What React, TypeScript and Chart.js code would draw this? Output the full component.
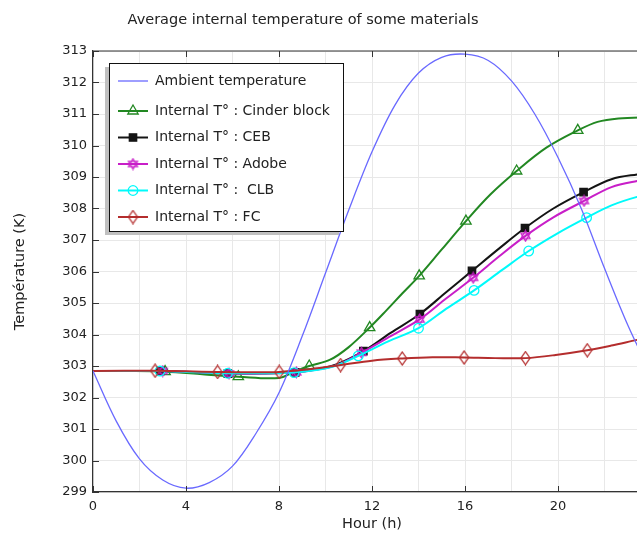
import React, { useEffect, useRef } from 'react';
import { Chart, registerables } from 'chart.js';
import { drawPoint } from 'chart.js/helpers';

Chart.register(...registerables);

const TITLE = 'Average internal temperature of some materials';
const X_TITLE = 'Hour (h)';
const Y_TITLE = 'Température (K)';

const LABELS = [
  'Ambient temperature',
  'Internal T° : Cinder block',
  'Internal T° : CEB',
  'Internal T° : Adobe',
  'Internal T° :  CLB',
  'Internal T° : FC',
];

const ambientHours = [0, 1, 2, 3, 4, 5, 6, 7, 8, 9, 10, 11, 12, 13, 14, 15, 16, 17, 18, 19, 20, 21, 22, 23, 24];
const ambientTemps = [302.84, 301.25, 300.05, 299.38, 299.12, 299.3, 299.82, 300.85, 302.15, 303.95, 305.95, 307.95, 309.8, 311.3, 312.3, 312.8, 312.9, 312.7, 312.05, 311.0, 309.62, 308.0, 306.1, 304.3, 302.75];

const cinderHours = [0, 1.5, 3.1, 4.7, 6.25, 8.0, 8.6, 9.3, 10.2, 11.0, 11.9, 12.6, 13.3, 14.03, 15.0, 16.04, 17.1, 18.22, 19.5, 20.85, 21.7, 22.6, 24];
const cinderTemps = [302.84, 302.84, 302.82, 302.74, 302.66, 302.62, 302.8, 303.0, 303.2, 303.6, 304.22, 304.75, 305.3, 305.86, 306.7, 307.6, 308.45, 309.19, 309.93, 310.48, 310.75, 310.86, 310.9];
const cinderMarks = [3.1, 6.25, 9.3, 11.9, 14.03, 16.04, 18.22, 20.85];

const cebHours = [0, 2.9, 4.5, 5.8, 7.3, 8.7, 9.6, 10.5, 11.63, 12.8, 14.06, 15.2, 16.3, 17.5, 18.58, 19.8, 21.1, 22.3, 23.4, 24];
const cebTemps = [302.84, 302.84, 302.8, 302.76, 302.76, 302.8, 302.9, 303.06, 303.47, 304.05, 304.65, 305.35, 306.02, 306.75, 307.38, 308.0, 308.52, 308.93, 309.08, 309.12];
const cebMarks = [2.9, 5.8, 8.7, 11.63, 14.06, 16.3, 18.58, 21.1];

const adobeHours = [0, 3.0, 4.5, 5.85, 7.3, 8.75, 9.6, 10.5, 11.55, 12.8, 14.05, 15.2, 16.35, 17.5, 18.6, 19.8, 21.12, 22.3, 23.4, 24];
const adobeTemps = [302.84, 302.84, 302.8, 302.76, 302.76, 302.8, 302.88, 303.03, 303.42, 303.95, 304.48, 305.15, 305.8, 306.5, 307.13, 307.72, 308.24, 308.68, 308.87, 308.92];
const adobeMarks = [3.0, 5.85, 8.75, 11.55, 14.05, 16.35, 18.6, 21.12];

const clbHours = [0, 2.88, 4.4, 5.79, 7.2, 8.65, 9.6, 10.4, 11.41, 12.7, 14.0, 15.2, 16.39, 17.6, 18.74, 20.0, 21.23, 22.3, 23.4, 24];
const clbTemps = [302.84, 302.84, 302.8, 302.77, 302.77, 302.79, 302.87, 303.0, 303.32, 303.78, 304.2, 304.82, 305.4, 306.05, 306.65, 307.22, 307.71, 308.1, 308.37, 308.45];
const clbMarks = [2.88, 5.79, 8.65, 11.41, 14.0, 16.39, 18.74, 21.23];

const fcHours = [0, 2.67, 4.0, 5.36, 6.7, 8.01, 9.3, 10.65, 12.0, 13.3, 14.6, 15.96, 17.3, 18.6, 19.9, 21.26, 22.3, 23.4, 24];
const fcTemps = [302.84, 302.85, 302.83, 302.81, 302.8, 302.81, 302.9, 303.03, 303.17, 303.24, 303.28, 303.27, 303.25, 303.25, 303.35, 303.5, 303.65, 303.83, 303.92];
const fcMarks = [2.67, 5.36, 8.01, 10.65, 13.3, 15.96, 18.6, 21.26];

const X_MIN = 0;
const X_MAX = 24;
const X_GRID_STEP = 2;
const X_LABEL_STEP = 4;
const Y_MIN = 299;
const Y_MAX = 313;
const Y_STEP = 1;

const COLORS = {
  ambient: 'rgb(105,105,255)',
  cinder: 'rgb(34,136,34)',
  ceb: 'rgb(20,20,20)',
  adobe: 'rgb(200,30,200)',
  clb: 'rgb(0,250,250)',
  fc: 'rgb(180,45,45)',
};

const FONT = 'DejaVu Sans';

function makeHexagram(color: string) {
  const c = document.createElement('canvas');
  c.width = 13;
  c.height = 13;
  const g = c.getContext('2d')!;
  g.strokeStyle = color;
  g.lineWidth = 1.2;
  const cx = 6.5, cy = 6.5, r = 5.3;
  for (const start of [-90, 90]) {
    g.beginPath();
    for (let k = 0; k < 3; k++) {
      const a = ((start + k * 120) * Math.PI) / 180;
      const px = cx + r * Math.cos(a);
      const py = cy + r * Math.sin(a);
      if (k === 0) g.moveTo(px, py); else g.lineTo(px, py);
    }
    g.closePath();
    g.stroke();
  }
  return c;
}

function makeLozenge(color: string) {
  const c = document.createElement('canvas');
  c.width = 11;
  c.height = 15;
  const g = c.getContext('2d')!;
  g.strokeStyle = color;
  g.lineWidth = 1.3;
  g.beginPath();
  g.moveTo(5.5, 1);
  g.lineTo(10, 7.5);
  g.lineTo(5.5, 14);
  g.lineTo(1, 7.5);
  g.closePath();
  g.stroke();
  return c;
}

function pts(hours: number[], temps: number[]) {
  return hours.map((h, i) => ({ x: h, y: temps[i] }));
}

export default function App() {
  const ref = useRef<HTMLCanvasElement>(null);

  useEffect(() => {
    const hexagram = makeHexagram(COLORS.adobe);
    const lozenge = makeLozenge(COLORS.fc);

    const series = [
      { label: LABELS[0], hours: ambientHours, temps: ambientTemps, marks: [] as number[], color: COLORS.ambient, width: 1.3, style: 'circle' as any, radius: 0, order: 0 },
      { label: LABELS[1], hours: cinderHours, temps: cinderTemps, marks: cinderMarks, color: COLORS.cinder, width: 2, style: 'triangle' as any, radius: 6, order: 5 },
      { label: LABELS[2], hours: cebHours, temps: cebTemps, marks: cebMarks, color: COLORS.ceb, width: 2, style: 'rect' as any, radius: 5.2, order: 4, fill: true },
      { label: LABELS[3], hours: adobeHours, temps: adobeTemps, marks: adobeMarks, color: COLORS.adobe, width: 2, style: hexagram as any, radius: 5, order: 3 },
      { label: LABELS[4], hours: clbHours, temps: clbTemps, marks: clbMarks, color: COLORS.clb, width: 2, style: 'circle' as any, radius: 4.8, order: 2 },
      { label: LABELS[5], hours: fcHours, temps: fcTemps, marks: fcMarks, color: COLORS.fc, width: 2, style: lozenge as any, radius: 5, order: 1 },
    ];

    const datasets = series.map((s) => ({
      label: s.label,
      data: pts(s.hours, s.temps),
      borderColor: s.color,
      borderWidth: s.width,
      pointStyle: s.style,
      pointBorderColor: s.color,
      pointBackgroundColor: (s as any).fill ? s.color : 'rgba(0,0,0,0)',
      pointBorderWidth: 1.3,
      pointRadius: (ctx: any) => (s.marks.includes(s.hours[ctx.dataIndex]) ? s.radius : 0),
      pointHoverRadius: 0,
      tension: 0.35,
      fill: false,
      order: s.order,
    }));

    const decorations = {
      id: 'decorations',
      afterDraw(chart: any) {
        const ctx = chart.ctx as CanvasRenderingContext2D;
        const area = chart.chartArea;
        const xs = chart.scales.x;
        const ys = chart.scales.y;
        ctx.save();
        ctx.strokeStyle = '#333';
        ctx.lineWidth = 1.2;
        ctx.beginPath();
        ctx.moveTo(area.left, area.top);
        ctx.lineTo(area.right, area.top);
        ctx.stroke();
        ctx.lineWidth = 1;
        for (let v = Y_MIN; v <= Y_MAX; v += Y_STEP) {
          const py = Math.round(ys.getPixelForValue(v)) + 0.5;
          ctx.beginPath();
          ctx.moveTo(area.left, py);
          ctx.lineTo(area.left + 6, py);
          ctx.stroke();
        }
        for (let v = X_MIN; v <= X_MAX; v += X_LABEL_STEP) {
          const px = Math.round(xs.getPixelForValue(v)) + 0.5;
          ctx.beginPath();
          ctx.moveTo(px, area.bottom);
          ctx.lineTo(px, area.bottom - 6);
          ctx.moveTo(px, area.top);
          ctx.lineTo(px, area.top + 6);
          ctx.stroke();
        }
        ctx.fillStyle = '#222';
        ctx.font = `14.5px "${FONT}"`;
        ctx.textAlign = 'center';
        ctx.textBaseline = 'middle';
        ctx.fillText(TITLE, 303, 20);

        const bx = 109, by = 63, bw = 234, bh = 168;
        ctx.fillStyle = '#c0c0c0';
        ctx.fillRect(bx - 4, by + 4, bw, bh);
        ctx.fillStyle = '#fff';
        ctx.fillRect(bx, by, bw, bh);
        ctx.strokeStyle = '#111';
        ctx.lineWidth = 1;
        ctx.strokeRect(bx + 0.5, by + 0.5, bw, bh);
        const rows = [81, 111, 137.5, 164, 190.5, 217];
        series.forEach((s, i) => {
          const y = rows[i];
          ctx.strokeStyle = s.color;
          ctx.lineWidth = s.width;
          ctx.beginPath();
          ctx.moveTo(118, y);
          ctx.lineTo(148, y);
          ctx.stroke();
          if (s.radius > 0) {
            ctx.fillStyle = (s as any).fill ? s.color : 'rgba(0,0,0,0)';
            ctx.lineWidth = 1.3;
            drawPoint(ctx, { pointStyle: s.style, radius: s.radius, rotation: 0, borderWidth: 1.3 } as any, 133, y);
          }
          ctx.fillStyle = '#222';
          ctx.font = `14px "${FONT}"`;
          ctx.textAlign = 'left';
          ctx.textBaseline = 'middle';
          ctx.fillText(s.label, 155, y);
        });
        ctx.restore();
      },
    };

    const chart = new Chart(ref.current!, {
      type: 'line',
      data: { datasets },
      options: {
        animation: false,
        responsive: false,
        maintainAspectRatio: false,
        layout: { padding: { top: 51, right: 29, left: 0, bottom: 0 } },
        plugins: {
          legend: { display: false },
          tooltip: { enabled: false },
          title: { display: false },
        },
        scales: {
          x: {
            type: 'linear',
            min: X_MIN,
            max: X_MAX,
            afterFit: (s: any) => { s.height = 41; },
            ticks: {
              stepSize: X_GRID_STEP,
              autoSkip: false,
              maxRotation: 0,
              padding: 7,
              color: '#222',
              font: { family: FONT, size: 13 },
              callback: (v: any) => (Number(v) % X_LABEL_STEP === 0 ? String(v) : ''),
            },
            grid: { color: '#e8e8e8', lineWidth: 1, drawTicks: false },
            border: { display: true, color: '#333', width: 1.2 },
            title: { display: true, text: X_TITLE, color: '#222', font: { family: FONT, size: 14.5 }, padding: { top: 0, bottom: 0 } },
          },
          y: {
            type: 'linear',
            min: Y_MIN,
            max: Y_MAX,
            afterFit: (s: any) => { s.width = 93; },
            ticks: {
              stepSize: Y_STEP,
              padding: 6,
              color: '#222',
              font: { family: FONT, size: 13 },
            },
            grid: { color: '#e8e8e8', lineWidth: 1, drawTicks: false },
            border: { display: true, color: '#333', width: 1.2 },
            title: { display: true, text: Y_TITLE, color: '#222', font: { family: FONT, size: 14.5 }, padding: { top: 12, bottom: 0 } },
          },
        },
      },
      plugins: [decorations],
    });
    return () => chart.destroy();
  }, []);

  return (
    <div style={{ position: 'absolute', left: 0, top: 0, width: 637, height: 533, overflow: 'hidden', background: '#fff' }}>
      <canvas ref={ref} width={680} height={533} style={{ width: 680, height: 533, display: 'block' }} />
    </div>
  );
}
